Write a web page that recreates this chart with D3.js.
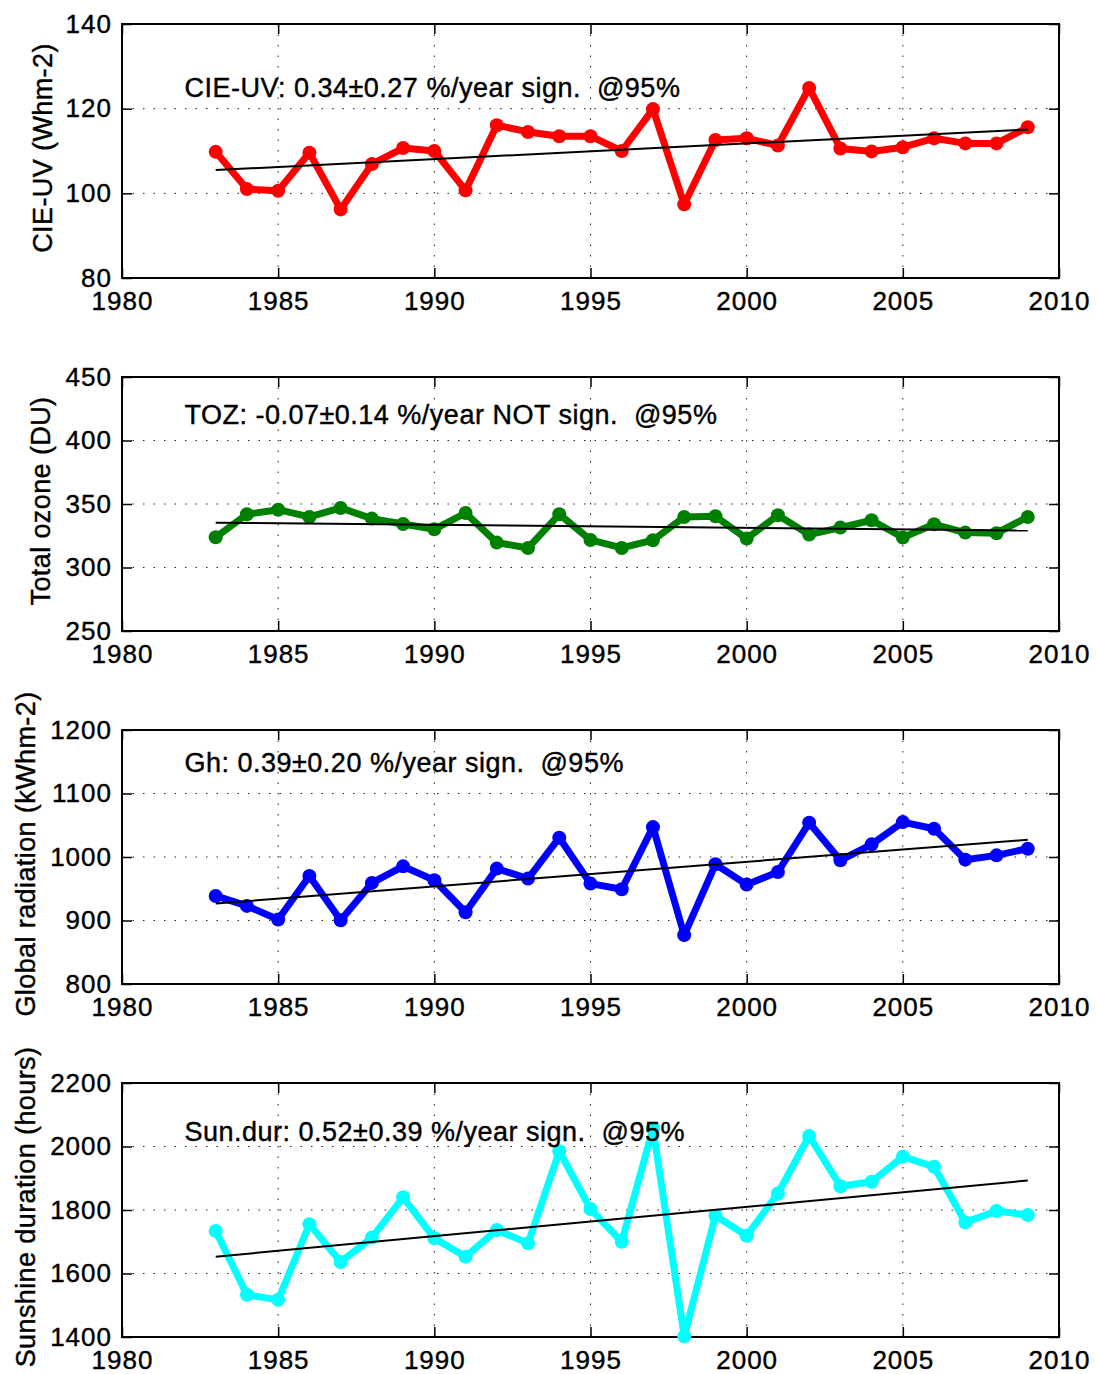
<!DOCTYPE html>
<html>
<head>
<meta charset="utf-8">
<script src="https://cdn.jsdelivr.net/npm/d3@7"></script>
<style>
  body { margin: 0; background: #fff; }
  text { font-family: "Liberation Sans", Arial, Helvetica, sans-serif; fill: #000; }
</style>
</head>
<body>
<div id="chart-container"></div>
<script>
// data
const years = [1983, 1984, 1985, 1986, 1987, 1988, 1989, 1990, 1991, 1992, 1993, 1994, 1995,
  1996, 1997, 1998, 1999, 2000, 2001, 2002, 2003, 2004, 2005, 2006, 2007, 2008, 2009];

const cieUV = [109.8, 101.0, 100.6, 109.6, 96.2, 106.9, 110.7, 110.0, 100.7, 116.1, 114.5, 113.5, 113.5,
  110.0, 119.9, 97.4, 112.6, 113.0, 111.3, 124.9, 110.6, 109.9, 110.9, 113.0, 111.8, 111.8, 115.6];
const totalOzone = [323.8, 341.9, 345.5, 339.8, 346.9, 338.5, 334.3, 330.1, 342.9, 319.6, 315.4, 341.9, 321.7,
  315.4, 321.5, 339.8, 340.3, 322.8, 341.1, 325.9, 331.4, 337.2, 323.6, 334.0, 327.5, 327.0, 339.8];
const globalRad = [938.7, 923.0, 901.6, 970.2, 900.5, 959.2, 985.3, 963.4, 913.1, 981.7, 966.0, 1030.4, 958.1,
  949.2, 1047.1, 877.0, 988.5, 956.5, 976.4, 1053.9, 994.8, 1019.9, 1055.0, 1044.5, 995.8, 1002.6, 1013.1];
const sunDur = [1734, 1533, 1517, 1755, 1636, 1713, 1840, 1711, 1653, 1737, 1695, 1985, 1803,
  1700, 2057, 1402, 1782, 1719, 1852, 2033, 1875, 1889, 1968, 1936, 1761, 1797, 1784];

// linear trend end points
const trendYears = [1983, 2009];
const cieTrend = [105.5, 115.1];
const tozTrend = [335.3, 329.1];
const ghTrend = [926.7, 1027.2];
const sunTrend = [1653, 1893];

const xTicks = [1980, 1985, 1990, 1995, 2000, 2005, 2010];
const cieTicks = [80, 100, 120, 140];
const tozTicks = [250, 300, 350, 400, 450];
const ghTicks = [800, 900, 1000, 1100, 1200];
const sunTicks = [1400, 1600, 1800, 2000, 2200];

const labels = ["CIE-UV (Whm-2)", "Total ozone (DU)", "Global radiation (kWhm-2)", "Sunshine duration (hours)"];
const notes = [
  "CIE-UV: 0.34\u00b10.27 %/year sign.  @95%",
  "TOZ: -0.07\u00b10.14 %/year NOT sign.  @95%",
  "Gh: 0.39\u00b10.20 %/year sign.  @95%",
  "Sun.dur: 0.52\u00b10.39 %/year sign.  @95%"
];

const panels = [
  { values: cieUV, trend: cieTrend, ticks: cieTicks, color: "#ff0000", top: 24, noteDy: 64, labelX: 52 },
  { values: totalOzone, trend: tozTrend, ticks: tozTicks, color: "#008000", top: 377, noteDy: 38, labelX: 50 },
  { values: globalRad, trend: ghTrend, ticks: ghTicks, color: "#0000ff", top: 730, noteDy: 33, labelX: 35 },
  { values: sunDur, trend: sunTrend, ticks: sunTicks, color: "#00ffff", top: 1083, noteDy: 49, labelX: 35 }
];

let left = 122, right = 1059, plotH = 254;

let svg = d3
  .select("#chart-container")
  .append("svg")
  .attr("width", 1097)
  .attr("height", 1374);

let xScale = d3.scaleLinear().domain([1980, 2010]).range([left, right]);

panels.forEach((p, i) => {
  let yScale = d3
    .scaleLinear()
    .domain([p.ticks[0], p.ticks[p.ticks.length - 1]])
    .range([p.top + plotH, p.top]);

  let g = svg.append("g");

  // dotted grid
  g.append("g")
    .selectAll("line")
    .data(xTicks.slice(1, -1))
    .enter()
    .append("line")
    .attr("x1", (d) => xScale(d))
    .attr("x2", (d) => xScale(d))
    .attr("y1", p.top)
    .attr("y2", p.top + plotH)
    .attr("stroke", "#222")
    .attr("stroke-width", 1)
    .attr("stroke-dasharray", "1.5,9");

  g.append("g")
    .selectAll("line")
    .data(p.ticks.slice(1, -1))
    .enter()
    .append("line")
    .attr("x1", left)
    .attr("x2", right)
    .attr("y1", (d) => yScale(d))
    .attr("y2", (d) => yScale(d))
    .attr("stroke", "#222")
    .attr("stroke-width", 1)
    .attr("stroke-dasharray", "1.5,9");

  // axes (ticks inside, on all four sides)
  let fmt = (d) => d;
  g.append("g")
    .attr("transform", "translate(0," + (p.top + plotH) + ")")
    .call(d3.axisBottom(xScale).tickValues(xTicks).tickFormat(fmt).tickSizeInner(-10).tickSizeOuter(0).tickPadding(14))
    .call((a) => a.select(".domain").remove());
  g.append("g")
    .attr("transform", "translate(0," + p.top + ")")
    .call(d3.axisTop(xScale).tickValues(xTicks).tickFormat("").tickSizeInner(-10).tickSizeOuter(0))
    .call((a) => a.select(".domain").remove());
  g.append("g")
    .attr("transform", "translate(" + left + ",0)")
    .call(d3.axisLeft(yScale).tickValues(p.ticks).tickFormat(fmt).tickSizeInner(-10).tickSizeOuter(0).tickPadding(10))
    .call((a) => a.select(".domain").remove());
  g.append("g")
    .attr("transform", "translate(" + right + ",0)")
    .call(d3.axisRight(yScale).tickValues(p.ticks).tickFormat("").tickSizeInner(-10).tickSizeOuter(0))
    .call((a) => a.select(".domain").remove());

  g.selectAll(".tick line").attr("stroke", "#000").attr("stroke-width", 1.5);
  g.selectAll(".tick text")
    .style("font-family", '"Liberation Sans", Arial, sans-serif')
    .style("font-size", "26px")
    .style("letter-spacing", "1px")
    .attr("fill", "#000")
    .attr("stroke", "#000")
    .attr("stroke-width", 0.4);

  // box
  g.append("rect")
    .attr("x", left)
    .attr("y", p.top)
    .attr("width", right - left)
    .attr("height", plotH)
    .attr("fill", "none")
    .attr("stroke", "#000")
    .attr("stroke-width", 2);

  // data line + markers
  let line = d3
    .line()
    .x((d, j) => xScale(years[j]))
    .y((d) => yScale(d));

  g.append("path")
    .datum(p.values)
    .attr("d", line)
    .attr("fill", "none")
    .attr("stroke", p.color)
    .attr("stroke-width", 7)
    .attr("stroke-linejoin", "round");

  g.append("g")
    .selectAll("circle")
    .data(p.values)
    .enter()
    .append("circle")
    .attr("cx", (d, j) => xScale(years[j]))
    .attr("cy", (d) => yScale(d))
    .attr("r", 7)
    .attr("fill", p.color);

  // trend line
  g.append("path")
    .datum(p.trend)
    .attr("d", d3.line().x((d, j) => xScale(trendYears[j])).y((d) => yScale(d)))
    .attr("fill", "none")
    .attr("stroke", "#000")
    .attr("stroke-width", 2);

  // annotation
  g.append("text")
    .attr("x", xScale(1982))
    .attr("y", p.top + p.noteDy)
    .attr("dy", "0.35em")
    .style("font-size", "27px")
    .style("letter-spacing", "0.5px")
    .style("white-space", "pre")
    .attr("xml:space", "preserve")
    .attr("stroke", "#000")
    .attr("stroke-width", 0.4)
    .text(notes[i]);

  // y label
  g.append("text")
    .attr("transform", "translate(" + p.labelX + "," + (p.top + plotH / 2 - 3) + ") rotate(-90)")
    .style("text-anchor", "middle")
    .style("font-size", "27px")
    .style("letter-spacing", "0.4px")
    .attr("stroke", "#000")
    .attr("stroke-width", 0.4)
    .text(labels[i]);
});
</script>
</body>
</html>
